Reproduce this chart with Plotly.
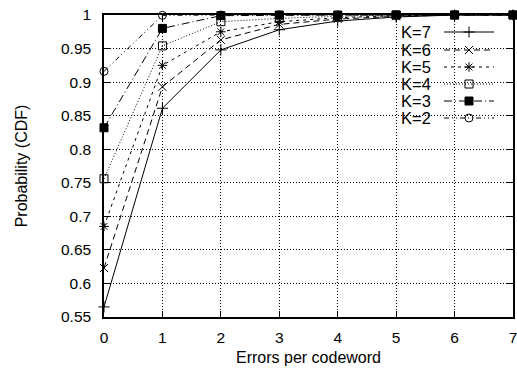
import plotly.graph_objects as go

# ---- data ----
errors = [0, 1, 2, 3, 4, 5, 6, 7]
series_names = ["K=7", "K=6", "K=5", "K=4", "K=3", "K=2"]
k7 = [0.565, 0.861, 0.948, 0.978, 0.991, 0.997, 1.0, 1.0]
k6 = [0.623, 0.893, 0.963, 0.986, 0.994, 0.998, 1.0, 1.0]
k5 = [0.685, 0.925, 0.975, 0.990, 0.996, 0.999, 1.0, 1.0]
k4 = [0.756, 0.954, 0.990, 0.995, 0.998, 1.0, 1.0, 1.0]
k3 = [0.832, 0.980, 0.999, 1.0, 1.0, 1.0, 1.0, 1.0]
k2 = [0.916, 0.9995, 1.0, 1.0, 1.0, 1.0, 1.0, 1.0]
series_values = [k7, k6, k5, k4, k3, k2]

y_tickvals = [0.55, 0.6, 0.65, 0.7, 0.75, 0.8, 0.85, 0.9, 0.95, 1.0]
y_ticktext = ["0.55", "0.6", "0.65", "0.7", "0.75", "0.8", "0.85", "0.9", "0.95", "1"]
x_tickvals = [0, 1, 2, 3, 4, 5, 6, 7]
x_ticktext = ["0", "1", "2", "3", "4", "5", "6", "7"]

# ---- styles ----
symbols = ["cross-thin-open", "x-thin-open", "asterisk-open", "square-open", "square", "circle-open"]
dashes = ["solid", "6px,4px", "3px,4px", "1px,2px", "8px,3px,1px,3px", "5px,3px,1px,3px,1px,3px"]

W, H = 517, 372
L, R, T, B = 104, 4, 15, 55
PW, PH = W - L - R, H - T - B
FONT = "Liberation Sans, Arial, sans-serif"


def px_x(px):
    # screen pixel -> paper fraction
    return (px - L) / PW


def px_y(py):
    return 1 - (py - T) / PH


fig = go.Figure()
legend_rows = [32, 50, 67, 84, 101, 118]
legend_keys = ["legend", "legend2", "legend3", "legend4", "legend5", "legend6"]

for i, (name, vals) in enumerate(zip(series_names, series_values)):
    fig.add_trace(go.Scatter(
        x=errors, y=vals, mode="lines+markers", name="",
        legend=legend_keys[i], showlegend=True,
        line=dict(color="black", width=1, dash=dashes[i]),
        marker=dict(symbol=symbols[i], size=8, color="black",
                    line=dict(color="black", width=1)),
        cliponaxis=False,
    ))

layout_legends = {}
for i, key in enumerate(legend_keys):
    layout_legends[key] = dict(
        x=px_x(439), y=px_y(legend_rows[i]), xanchor="left", yanchor="middle",
        bgcolor="rgba(0,0,0,0)", borderwidth=0, itemwidth=50,
        font=dict(family=FONT, size=2), tracegroupgap=0,
    )

annotations = []
for i, name in enumerate(series_names):
    annotations.append(dict(
        x=px_x(399), y=px_y(legend_rows[i]), xref="paper", yref="paper",
        text=name, showarrow=False, xanchor="left", yanchor="middle",
        font=dict(family=FONT, size=16.5, color="black"),
    ))

fig.update_layout(
    width=W, height=H,
    margin=dict(l=L, r=R, t=T, b=B, autoexpand=False),
    paper_bgcolor="white", plot_bgcolor="white",
    font=dict(family=FONT, size=15.5, color="black"),
    annotations=annotations,
    shapes=[dict(type="rect", xref="paper", yref="paper",
                 x0=px_x(398), x1=px_x(505), y0=px_y(127), y1=px_y(22),
                 fillcolor="white", line=dict(width=0), layer="between")],
    **layout_legends,
)

axis_common = dict(
    showline=True, linecolor="black", linewidth=1.5, mirror="ticks",
    ticks="inside", ticklen=6, tickcolor="black", tickwidth=1,
    showgrid=True, gridcolor="black", gridwidth=1, griddash="1px,2px",
    zeroline=False, tickfont=dict(family=FONT, size=15.5, color="black"),
    ticklabeloverflow="allow",
)

fig.update_xaxes(range=[0, 7], tickvals=x_tickvals, ticktext=x_ticktext,
                 title=dict(text="Errors per codeword", font=dict(family=FONT, size=16), standoff=6),
                 ticklabelstandoff=6, **axis_common)
fig.update_yaxes(range=[0.55, 1], tickvals=y_tickvals, ticktext=y_ticktext,
                 title=dict(text="Probability (CDF)", font=dict(family=FONT, size=16), standoff=29),
                 ticklabelstandoff=8, **axis_common)

fig.write_html(
    "out.html",
    config={"displayModeBar": False},
    post_script="document.body.style.margin='0px';document.body.style.overflow='hidden';",
)
